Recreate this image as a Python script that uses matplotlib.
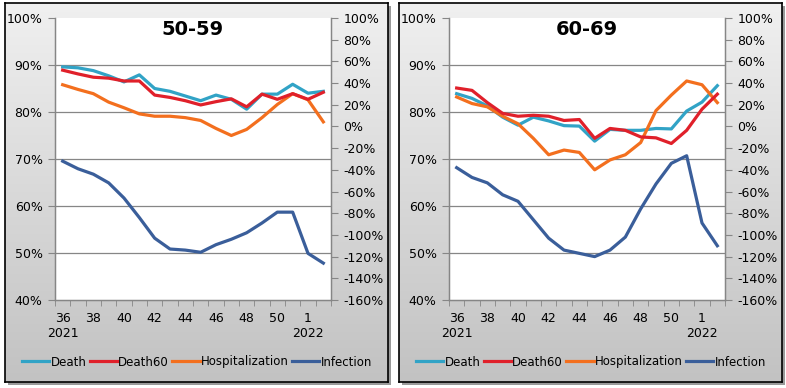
import numpy as np
import matplotlib
matplotlib.use("Agg")
import matplotlib.pyplot as plt
from matplotlib.ticker import FixedLocator, FuncFormatter
from matplotlib.colors import LinearSegmentedColormap

weeks = ["36", "37", "38", "39", "40", "41", "42", "43", "44", "45", "46", "47",
         "48", "49", "50", "51", "1", "2"]
tick_labels = ["36", "", "38", "", "40", "", "42", "", "44", "", "46", "", "48", "", "50", "", "1", ""]
years = {0: "2021", 16: "2022"}
series_names = ["Death", "Death60", "Hospitalization", "Infection"]

# 50-59 panel (Death, Death60, Hospitalization on left axis; Infection on right axis)
death_5059 = [89.6, 89.4, 88.8, 87.7, 86.4, 87.9, 85.0, 84.4, 83.4, 82.4, 83.6, 82.7,
              80.6, 83.8, 83.8, 85.9, 84.0, 84.4]
death60_5059 = [88.9, 88.1, 87.4, 87.2, 86.6, 86.6, 83.6, 83.1, 82.4, 81.5, 82.2, 82.8,
                81.1, 83.8, 82.7, 83.9, 82.7, 84.2]
hosp_5059 = [85.8, 84.8, 83.9, 82.1, 80.9, 79.6, 79.1, 79.1, 78.8, 78.2, 76.5, 75.0,
             76.3, 78.8, 81.6, 83.9, 82.6, 77.9]
infection_5059 = [-32, -39, -44, -52, -66, -84, -103, -113, -114, -116, -109, -104,
                  -98, -89, -79, -79, -117, -126]

# 60-69 panel
death_6069 = [83.9, 82.9, 81.3, 78.9, 77.2, 78.9, 78.1, 77.1, 77.0, 73.8, 76.3, 76.1,
              76.1, 76.5, 76.4, 80.2, 82.1, 85.6]
death60_6069 = [85.1, 84.6, 82.0, 79.7, 79.1, 79.3, 79.1, 78.2, 78.4, 74.4, 76.5, 76.1,
                74.7, 74.5, 73.3, 76.1, 80.6, 83.8]
hosp_6069 = [83.2, 81.8, 81.1, 79.1, 77.5, 74.4, 70.9, 71.9, 71.4, 67.7, 69.8, 70.9,
             73.5, 80.3, 83.6, 86.6, 85.8, 82.0]
infection_6069 = [-38, -47, -52, -63, -69, -86, -103, -114, -117, -120, -114, -102,
                  -76, -53, -34, -27, -89, -110]

colors = ["#31A3C6", "#E0202A", "#F36F1E", "#3A5E9A"]
grid_color = "#868686"

W, H = 786, 388
fig = plt.figure(figsize=(W / 100, H / 100), dpi=100)
fig.patch.set_facecolor("white")

def fx(px):
    return px / W

def fy(py):
    return 1 - py / H

grad = np.linspace(0, 1, 256).reshape(-1, 1)
cmap = LinearSegmentedColormap.from_list("g", ["#F0F0F0", "#C2C2C2"])

panels = [
    ("50-59", death_5059, death60_5059, hosp_5059, infection_5059, 5, 55),
    ("60-69", death_6069, death60_6069, hosp_6069, infection_6069, 399, 449),
]

for title, d, d60, h, inf, box_x, plot_x in panels:
    # shadow
    sh = fig.add_axes([fx(box_x + 3), fy(385), fx(383), 379 / H], zorder=0)
    sh.set_facecolor("#9a9a9a")
    sh.set_xticks([]); sh.set_yticks([])
    for s in sh.spines.values():
        s.set_visible(False)
    # panel background with gradient
    bg = fig.add_axes([fx(box_x), fy(382), fx(383), 379 / H], zorder=1)
    bg.imshow(grad, aspect="auto", cmap=cmap, extent=[0, 1, 0, 1], origin="upper")
    bg.set_xticks([]); bg.set_yticks([])
    for s in bg.spines.values():
        s.set_color("black")
        s.set_linewidth(1.2)

    ax = fig.add_axes([fx(plot_x), fy(300), fx(276), 282 / H], zorder=2)
    ax.set_facecolor("white")
    x = np.arange(len(weeks))
    l1, = ax.plot(x, d, color=colors[0], lw=2.3, label=series_names[0], zorder=3)
    l2, = ax.plot(x, d60, color=colors[1], lw=2.3, label=series_names[1], zorder=4)
    l3, = ax.plot(x, h, color=colors[2], lw=2.3, label=series_names[2], zorder=3)
    ax.set_ylim(40, 100)
    ax.set_xlim(-0.5, len(weeks) - 0.5)
    for g in [50, 60, 70, 80, 90]:
        ax.axhline(g, color=grid_color, lw=0.9, zorder=1)
    ax.set_yticks(np.arange(40, 101, 10))
    ax.yaxis.set_major_formatter(FuncFormatter(lambda v, p: f"{int(round(v))}%"))
    ax.set_xticks(x)
    ax.set_xticklabels(tick_labels)
    ax.xaxis.set_minor_locator(FixedLocator(np.arange(-0.5, len(weeks), 1.0)))
    ax.tick_params(axis="x", which="major", length=0, pad=9, labelsize=9)
    ax.tick_params(axis="x", which="minor", length=4, color=grid_color, direction="out")
    ax.tick_params(axis="y", length=5, color=grid_color, labelsize=9, pad=4)
    for i, yr in years.items():
        ax.text(i, -0.12, yr, transform=ax.get_xaxis_transform(), ha="center", va="center",
                fontsize=9)
    ax.spines["top"].set_visible(False)
    for side in ["left", "right", "bottom"]:
        ax.spines[side].set_color(grid_color)
        ax.spines[side].set_linewidth(1.0)

    ax2 = ax.twinx()
    l4, = ax2.plot(x, inf, color=colors[3], lw=2.3, label=series_names[3], zorder=3)
    ax2.set_ylim(-160, 100)
    ax2.set_yticks(np.arange(-160, 101, 20))
    ax2.yaxis.set_major_formatter(FuncFormatter(lambda v, p: f"{int(round(v))}%"))
    ax2.tick_params(axis="y", length=5, color=grid_color, labelsize=9, pad=4)
    ax2.spines["top"].set_visible(False)
    for side in ["left", "right", "bottom"]:
        ax2.spines[side].set_color(grid_color)

    ax.text(0.5, 0.958, title, transform=ax.transAxes, ha="center", va="center",
            fontsize=14, fontweight="bold", zorder=6)

    fig.legend([l1, l2, l3, l4], series_names, loc="center",
               bbox_to_anchor=(fx(box_x + 192), fy(362)), ncol=4, frameon=False,
               fontsize=8.5, handlelength=2.3, handletextpad=0.1, columnspacing=0.3,
               borderpad=0.1)

fig.savefig("out.png", dpi=100)
